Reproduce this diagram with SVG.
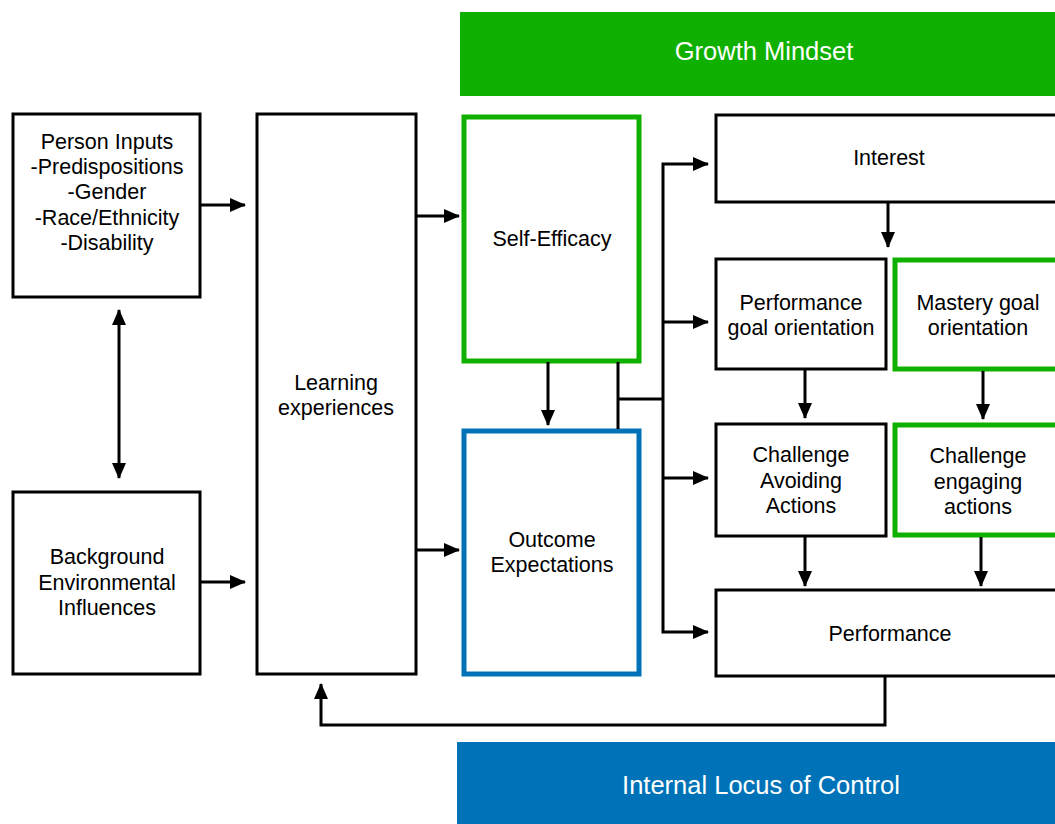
<svg xmlns="http://www.w3.org/2000/svg" width="1055" height="824" viewBox="0 0 1055 824">
<defs>
<marker id="ah" markerUnits="userSpaceOnUse" markerWidth="16" markerHeight="16" viewBox="0 0 16 16" refX="15" refY="8" orient="auto-start-reverse">
<path d="M0,1 L16,8 L0,15 Z" fill="#000"/>
</marker>
<style>
.b{fill:#fff;stroke:#000;stroke-width:3}
.g{fill:#fff;stroke:#10b000;stroke-width:5}
.bl{fill:#fff;stroke:#0073b8;stroke-width:5}
.t{font-family:"Liberation Sans",Arial,sans-serif;font-size:21.5px;fill:#000;text-anchor:middle}
.w{font-family:"Liberation Sans",Arial,sans-serif;font-size:25.5px;fill:#fff;text-anchor:middle}
.c{fill:none;stroke:#000;stroke-width:3}
</style>
</defs>
<rect width="1055" height="824" fill="#fff"/>
<g id="growth">
<rect x="460" y="12" width="600" height="84" fill="#10b000"/>
<text class="w" x="764" y="60">Growth Mindset</text>
</g>
<g id="locus">
<rect x="457" y="742" width="603" height="90" fill="#0073b8"/>
<text class="w" x="761" y="794">Internal Locus of Control</text>
</g>
<g id="person">
<rect class="b" x="13" y="114" width="187" height="183"/>
<text class="t" x="107" y="149">Person Inputs</text>
<text class="t" x="107" y="174">-Predispositions</text>
<text class="t" x="107" y="199">-Gender</text>
<text class="t" x="107" y="225">-Race/Ethnicity</text>
<text class="t" x="107" y="250">-Disability</text>
</g>
<g id="background">
<rect class="b" x="13" y="492" width="187" height="182"/>
<text class="t" x="107" y="564">Background</text>
<text class="t" x="107" y="590">Environmental</text>
<text class="t" x="107" y="615">Influences</text>
</g>
<g id="learning">
<rect class="b" x="257" y="114" width="159" height="560"/>
<text class="t" x="336" y="390">Learning</text>
<text class="t" x="336" y="415">experiences</text>
</g>
<g id="selfefficacy">
<rect class="g" x="464" y="117" width="175" height="244"/>
<text class="t" x="552" y="246">Self-Efficacy</text>
</g>
<g id="outcome">
<rect class="bl" x="464" y="431" width="175" height="243"/>
<text class="t" x="552" y="547">Outcome</text>
<text class="t" x="552" y="572">Expectations</text>
</g>
<g id="interest">
<rect class="b" x="716" y="115" width="345" height="87"/>
<text class="t" x="889" y="165">Interest</text>
</g>
<g id="perfgoal">
<rect class="b" x="716" y="259" width="170" height="110"/>
<text class="t" x="801" y="310">Performance</text>
<text class="t" x="801" y="335">goal orientation</text>
</g>
<g id="mastery">
<rect class="g" x="895" y="260" width="165" height="109"/>
<text class="t" x="978" y="310">Mastery goal</text>
<text class="t" x="978" y="335">orientation</text>
</g>
<g id="avoid">
<rect class="b" x="716" y="424" width="170" height="112"/>
<text class="t" x="801" y="462">Challenge</text>
<text class="t" x="801" y="488">Avoiding</text>
<text class="t" x="801" y="513">Actions</text>
</g>
<g id="engage">
<rect class="g" x="895" y="425" width="165" height="110"/>
<text class="t" x="978" y="463">Challenge</text>
<text class="t" x="978" y="489">engaging</text>
<text class="t" x="978" y="514">actions</text>
</g>
<g id="performance">
<rect class="b" x="716" y="590" width="345" height="86"/>
<text class="t" x="890" y="641">Performance</text>
</g>
<g id="connectors">
<line class="c" x1="200" y1="205" x2="245" y2="205" marker-end="url(#ah)"/>
<line class="c" x1="200" y1="582" x2="245" y2="582" marker-end="url(#ah)"/>
<line class="c" x1="119" y1="310" x2="119" y2="478" marker-start="url(#ah)" marker-end="url(#ah)"/>
<line class="c" x1="416" y1="216" x2="459" y2="216" marker-end="url(#ah)"/>
<line class="c" x1="416" y1="550" x2="459" y2="550" marker-end="url(#ah)"/>
<line class="c" x1="548" y1="362" x2="548" y2="425" marker-end="url(#ah)"/>
<line class="c" x1="618" y1="362" x2="618" y2="429"/>
<line class="c" x1="618" y1="399" x2="663" y2="399"/>
<polyline class="c" points="708,164 663,164 663,632 708,632" marker-start="url(#ah)" marker-end="url(#ah)"/>
<line class="c" x1="663" y1="322" x2="708" y2="322" marker-end="url(#ah)"/>
<line class="c" x1="663" y1="478" x2="708" y2="478" marker-end="url(#ah)"/>
<line class="c" x1="888" y1="202" x2="888" y2="247" marker-end="url(#ah)"/>
<line class="c" x1="805" y1="369" x2="805" y2="418" marker-end="url(#ah)"/>
<line class="c" x1="983" y1="371" x2="983" y2="419" marker-end="url(#ah)"/>
<line class="c" x1="805" y1="536" x2="805" y2="586" marker-end="url(#ah)"/>
<line class="c" x1="981" y1="537" x2="981" y2="586" marker-end="url(#ah)"/>
<polyline class="c" points="885,676 885,725 321,725 321,684" marker-end="url(#ah)"/>
</g>
</svg>
